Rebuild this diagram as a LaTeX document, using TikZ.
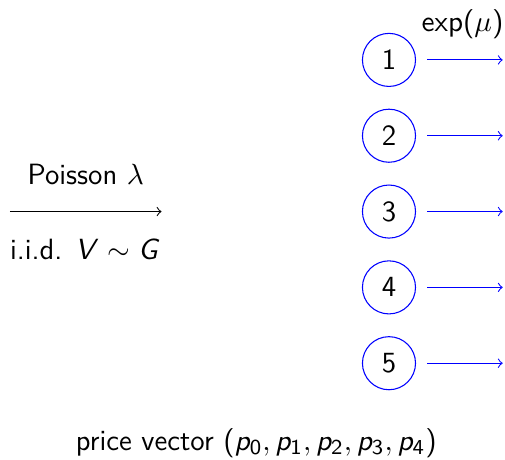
\documentclass[tikz,border=0pt]{standalone}
\usetikzlibrary{positioning}
% sans math letters, as in slides
\SetSymbolFont{operators}{normal}{OT1}{cmss}{m}{n}
\DeclareSymbolFont{sfitalic}{OT1}{cmss}{m}{sl}
\DeclareMathSymbol{V}{\mathalpha}{sfitalic}{`V}
\DeclareMathSymbol{G}{\mathalpha}{sfitalic}{`G}
\DeclareMathSymbol{p}{\mathalpha}{sfitalic}{`p}
\begin{document}
\begin{tikzpicture}[
        every node/.style={font=\sffamily\fontsize{11}{13}\selectfont},
        server/.style={circle, draw=blue, minimum size=7mm, inner sep=0pt},
        depart/.style={->, blue},
      ]
      \useasboundingbox (-0.13,-3.27) rectangle (6.53,2.79);

      \coordinate (src) at (0,0);
      \coordinate (dst) at (2,0);
      \draw[->] (src) -- (dst);
      \node (arrival) at (1,0.49) {Poisson $\lambda$};
      \node (law) at (1,-0.5) {i.i.d. $V\sim G$};

      \foreach \i in {1,...,5} {
        \node[server] (s\i) at (5,3-\i) {\i};
        \coordinate (out\i) at (6.5,3-\i);
        \draw[depart] ([xshift=1.5mm]s\i.east) -- (out\i);
      }
      \node (rate) at (5.97,2.47) {$\exp(\mu)$};

      \node (prices) at (3.25,-3.05) {price vector $(p_0,p_1,p_2,p_3,p_4)$};

    \end{tikzpicture}
\end{document}
